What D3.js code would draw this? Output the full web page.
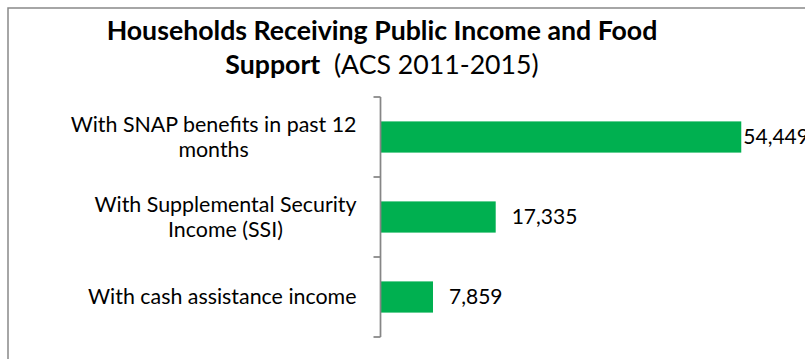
<!DOCTYPE html>
<html>
<head>
<meta charset="utf-8">
<script src="https://cdn.jsdelivr.net/npm/d3@7"></script>
<style>
  html, body { margin: 0; padding: 0; background: #fff; }
  svg { display: block; }
  text { font-family: Lato, "Open Sans", sans-serif; fill: #000; }
</style>
</head>
<body>
<svg id="chart" width="805" height="359"></svg>
<script>
// Household counts by type of public support (ACS 2011-2015)
const categories = [
  ["With SNAP benefits in past 12", "months"],
  ["With Supplemental Security", "Income (SSI)"],
  ["With cash assistance income"]
];
const values = [54449, 17335, 7859];
const titleBold1 = "Households Receiving Public Income and Food";
const titleBold2 = "Support";
const titleNormal2 = "  (ACS 2011-2015)";

const W = 805, H = 359;
const svg = d3.select("#chart");
const keys = categories.map(c => c.join(" "));

// chart frame (only the top and left edges fall inside the canvas)
svg.append("path")
  .attr("d", `M8,${H + 2}V8H${W + 2}`)
  .attr("fill", "none")
  .attr("stroke", "#898989")
  .attr("stroke-width", 1.5);

// title
const title = svg.append("text")
  .attr("text-anchor", "middle")
  .attr("xml:space", "preserve")
  .attr("x", 382)
  .style("font-size", "26.7px");
title.append("tspan").attr("x", 382).attr("y", 40)
  .style("font-weight", "bold").text(titleBold1);
const t2 = title.append("tspan").attr("x", 382).attr("y", 74);
t2.append("tspan").style("font-weight", "bold").text(titleBold2);
t2.append("tspan").style("font-weight", "normal").text(titleNormal2);

// scales
const y = d3.scaleBand()
  .domain(keys)
  .range([97, 337])
  .paddingInner(0.61)
  .paddingOuter(0.305);

const x = d3.scaleLinear()
  .domain([0, 60000])
  .range([381, 778]);

// bars
svg.append("g").selectAll("rect")
  .data(values)
  .join("rect")
  .attr("x", x(0))
  .attr("y", (d, i) => y(keys[i]))
  .attr("width", d => x(d) - x(0))
  .attr("height", y.bandwidth())
  .attr("fill", "#00B050");

// category axis: spine plus ticks at the band boundaries
const axisX = 380.5;
const step = y.step();
const first = y(keys[0]) - y.paddingOuter() * step;
const bounds = d3.range(keys.length + 1).map(i => first + i * step);
const axis = svg.append("g").attr("stroke", "#868686").attr("stroke-width", 1.75);
axis.append("line")
  .attr("x1", axisX).attr("x2", axisX)
  .attr("y1", bounds[0]).attr("y2", bounds[bounds.length - 1]);
axis.selectAll("line.tick")
  .data(bounds)
  .join("line")
  .attr("class", "tick")
  .attr("x1", axisX - 7).attr("x2", axisX)
  .attr("y1", d => d).attr("y2", d => d);

// category labels, wrapped lines centred in a right-aligned block
const labelSize = 21.4, lineH = 25;
const labels = svg.append("g").style("font-size", labelSize + "px");
categories.forEach((lines, i) => {
  const cy = y(keys[i]) + y.bandwidth() / 2;
  const txt = labels.append("text").attr("text-anchor", "middle");
  lines.forEach((ln, j) => {
    txt.append("tspan")
      .attr("y", cy + (j - (lines.length - 1) / 2) * lineH + labelSize * 0.35)
      .text(ln);
  });
  const widths = [];
  txt.selectAll("tspan").each(function () { widths.push(this.getComputedTextLength()); });
  const blockW = d3.max(widths);
  txt.selectAll("tspan").attr("x", 356.5 - blockW / 2);
});

// value labels; a label that would run past the frame hugs its bar
const vals = svg.append("g").style("font-size", "21px");
values.forEach((v, i) => {
  const t = vals.append("text")
    .attr("y", y(keys[i]) + y.bandwidth() / 2 + 21 * 0.35)
    .text(d3.format(",")(v));
  const w = t.node().getComputedTextLength();
  let tx = x(v) + 16;
  if (tx + w > W) tx = x(v) + 2;
  t.attr("x", tx);
});
</script>
</body>
</html>
